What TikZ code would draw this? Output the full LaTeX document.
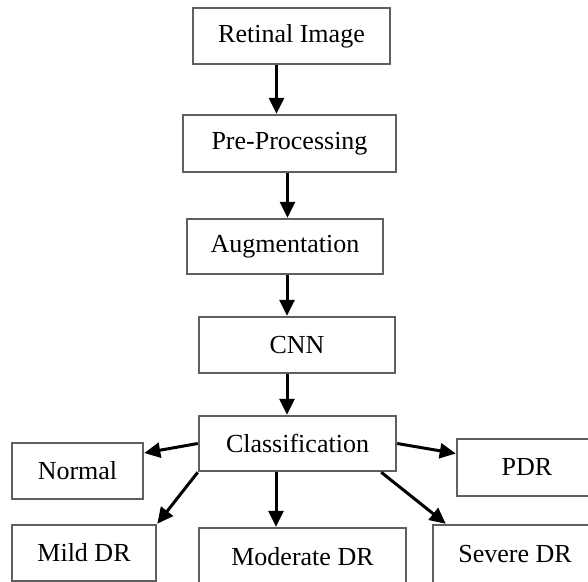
\documentclass[tikz,border=0pt]{standalone}
\usepackage{fontspec}
\setmainfont{Liberation Serif}
\usepackage{tikz}
\usetikzlibrary{arrows.meta, positioning, calc}
\definecolor{boxgray}{HTML}{5F5F5F}
\tikzset{
  every node/.style={font=\fontsize{26}{30}\selectfont},
  stagebox/.style={draw=boxgray, line width=2.5pt, fill=white, inner sep=0pt},
  flowarrow/.style={line width=3pt, -{Triangle[length=16pt, width=15pt]}}
}

\begin{document}
\begin{tikzpicture}[x=1pt, y=-1pt]
    \path[use as bounding box, clip] (0,0) rectangle (588,581);
    \node[stagebox, minimum width=197pt, minimum height=56pt] (ret) at (291.5, 36) {Retinal Image};
    \node[stagebox, minimum width=213pt, minimum height=57pt] (pre) at (289.5, 143.5) {Pre-Processing};
    \node[stagebox, minimum width=196pt, minimum height=55pt] (aug) at (285, 246.5) {Augmentation};
    \node[stagebox, minimum width=196pt, minimum height=56pt] (cnn) at (297, 345) {CNN};
    \node[stagebox, minimum width=197pt, minimum height=55pt] (cls) at (297.5, 443.5) {Classification};
    \node[stagebox, minimum width=131pt, minimum height=56pt] (normal) at (77.5, 471) {Normal};
    \node[stagebox, minimum width=140pt, minimum height=57pt] (pdr) at (527, 467.5) {PDR};
    \node[stagebox, minimum width=144pt, minimum height=56pt] (mild) at (84, 553) {Mild DR};
    \node[stagebox, minimum width=207pt, minimum height=57pt] (mod) at (302.5, 556.5) {Moderate DR};
    \node[stagebox, minimum width=164pt, minimum height=58pt] (sev) at (515, 554) {Severe DR};
    \draw[flowarrow] ([xshift=-15pt]ret.south) -- ([xshift=-15pt]ret.south |- pre.north);
    \draw[flowarrow] ([xshift=-2pt]pre.south) -- ([xshift=-2pt]pre.south |- aug.north);
    \draw[flowarrow] ([xshift=2pt]aug.south) -- ([xshift=2pt]aug.south |- cnn.north);
    \draw[flowarrow] ([xshift=-10pt]cnn.south) -- ([xshift=-10pt]cnn.south |- cls.north);
    \draw[flowarrow] (cls.west) -- ([yshift=18pt]normal.east);
    \draw[flowarrow] (cls.south west) -- (mild.north east);
    \draw[flowarrow] ([xshift=-21.5pt]cls.south) -- ([xshift=-21.5pt]cls.south |- mod.north);
    \draw[flowarrow] ([xshift=-16pt]cls.south east) -- ([xshift=14pt]sev.north west);
    \draw[flowarrow] (cls.east) -- ([yshift=14pt]pdr.west);
  \end{tikzpicture}
\end{document}
